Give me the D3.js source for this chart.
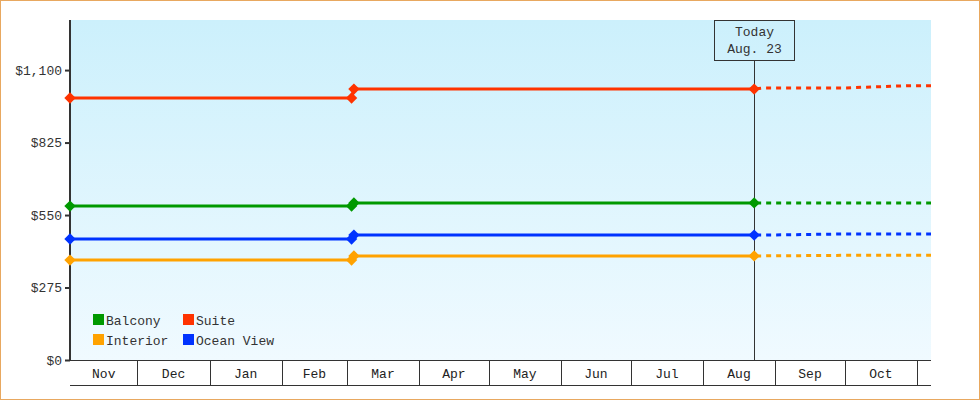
<!DOCTYPE html>
<html>
<head>
<meta charset="utf-8">
<script src="https://cdn.jsdelivr.net/npm/d3@7"></script>
<style>
  body { margin: 0; background: #fff; }
  svg { display: block; font-family: "Liberation Mono", monospace; }
</style>
</head>
<body>
<div id="chart"></div>
<script>
// series: dates of each observed price, and the observed values
var seriesNames = ["Balcony", "Interior", "Suite", "Ocean View"];
var seriesColors = ["#009900", "#ffa200", "#ff3300", "#0033ff"];
var legendOrder = ["Balcony", "Suite", "Interior", "Ocean View"];

var histDates = ["2014-11-02", "2015-03-03", "2015-03-04", "2015-08-23"];
var histBalcony = [584, 584, 596, 596];
var histInterior = [379, 379, 395, 395];
var histSuite = [994, 994, 1028, 1028];
var histOcean = [459, 459, 474, 474];

// forecast after today (dashed)
var fcDates = ["2015-08-23", "2015-08-27", "2015-09-30", "2015-10-29", "2015-11-07"];
var fcBalcony = [596, 596, 596, 596, 596];
var fcInterior = [395, 395, 397, 397, 397];
var fcSuite = [1028, 1032, 1032, 1041, 1041];
var fcOcean = [474, 474, 478, 478, 478];

var yTicks = [0, 275, 550, 825, 1100];
var todayDate = "2015-08-23";
var todayLabel = ["Today", "Aug. 23"];

var width = 980, height = 400;
var margin = { top: 20, right: 49, bottom: 40, left: 70 };
var parse = d3.timeParse("%Y-%m-%d");

var x = d3.scaleTime()
    .domain([parse("2014-11-02"), parse("2015-11-07")])
    .range([margin.left, width - margin.right]);
var y = d3.scaleLinear()
    .domain([0, 1290])
    .range([height - margin.bottom, margin.top]);

var svg = d3.select("#chart").append("svg")
    .attr("width", width)
    .attr("height", height);

// outer border
svg.append("rect")
    .attr("x", 0.5).attr("y", 0.5)
    .attr("width", width - 1).attr("height", height - 1)
    .style("fill", "#fff")
    .style("stroke", "#e8a860");

// plot background gradient
var grad = svg.append("defs").append("linearGradient")
    .attr("id", "bg").attr("x1", 0).attr("y1", 0).attr("x2", 0).attr("y2", 1);
grad.append("stop").attr("offset", "0%").attr("stop-color", "#ccf0fc");
grad.append("stop").attr("offset", "100%").attr("stop-color", "#f0faff");

svg.append("rect")
    .attr("x", margin.left)
    .attr("y", margin.top)
    .attr("width", x.range()[1] - x.range()[0])
    .attr("height", y(0) - margin.top)
    .style("fill", "url(#bg)");

// month band under the plot
var y0 = y(0);
var bandH = 25;
var months = d3.timeMonth.range(d3.timeMonth.floor(x.domain()[0]), x.domain()[1]);
var xg = svg.append("g");
xg.append("line")
    .attr("x1", x.range()[0]).attr("x2", x.range()[1])
    .attr("y1", y0 + 0.5).attr("y2", y0 + 0.5)
    .style("stroke", "#333");
xg.append("line")
    .attr("x1", x.range()[0]).attr("x2", x.range()[1])
    .attr("y1", y0 + bandH + 0.5).attr("y2", y0 + bandH + 0.5)
    .style("stroke", "#333");
months.forEach(function (m) {
    var s = Math.max(x(m), x.range()[0]);
    var e = Math.min(x(d3.timeMonth.offset(m, 1)), x.range()[1]);
    if (x(m) > x.range()[0]) {
        xg.append("line")
            .attr("x1", Math.round(x(m)) + 0.5).attr("x2", Math.round(x(m)) + 0.5)
            .attr("y1", y0).attr("y2", y0 + bandH)
            .style("stroke", "#333");
    }
    if (e - s > 40) {
        xg.append("text")
            .attr("x", (s + e) / 2)
            .attr("y", y0 + 18)
            .attr("text-anchor", "middle")
            .style("font-size", "13px")
            .style("fill", "#222")
            .text(d3.timeFormat("%b")(m));
    }
});

// y axis
var yAxis = d3.axisLeft(y)
    .tickValues(yTicks)
    .tickSize(5)
    .tickPadding(3)
    .tickFormat(function (d) { return "$" + d3.format(",")(d); });
var yg = svg.append("g")
    .attr("transform", "translate(" + margin.left + ",0)")
    .call(yAxis);
yg.select(".domain").remove();
yg.append("line")
    .attr("x1", 0).attr("x2", 0)
    .attr("y1", margin.top).attr("y2", y0 + 1)
    .style("stroke", "#333").style("stroke-width", 2);
yg.selectAll(".tick line").style("stroke", "#333").style("stroke-width", 2);
yg.selectAll(".tick text")
    .style("font-size", "13px")
    .style("font-family", "Liberation Mono, monospace")
    .style("fill", "#333");

// today marker
var tx = Math.round(x(parse(todayDate))) + 0.5;
svg.append("line")
    .attr("x1", tx).attr("x2", tx)
    .attr("y1", 60).attr("y2", y0)
    .style("stroke", "#333");
svg.append("rect")
    .attr("x", tx - 40).attr("y", 20.5)
    .attr("width", 80).attr("height", 40)
    .style("fill", "none")
    .style("stroke", "#333");
todayLabel.forEach(function (t, i) {
    svg.append("text")
        .attr("x", tx).attr("y", 36 + i * 17)
        .attr("text-anchor", "middle")
        .style("font-size", "13px")
        .style("fill", "#333")
        .text(t);
});

// lines
var hist = [histBalcony, histInterior, histSuite, histOcean];
var fc = [fcBalcony, fcInterior, fcSuite, fcOcean];
var line = d3.line()
    .x(function (d) { return x(d.date); })
    .y(function (d) { return y(d.value); });
var diamond = d3.symbol().type(d3.symbolSquare).size(64);

seriesNames.forEach(function (name, i) {
    var h = histDates.map(function (d, j) { return { date: parse(d), value: hist[i][j] }; });
    var f = fcDates.map(function (d, j) { return { date: parse(d), value: fc[i][j] }; });
    var g = svg.append("g");
    g.append("path")
        .datum(f)
        .attr("d", line)
        .style("fill", "none")
        .style("stroke", seriesColors[i])
        .style("stroke-width", 3)
        .style("stroke-dasharray", "5,5")
        .style("stroke-dashoffset", -2);
    g.append("path")
        .datum(h)
        .attr("d", line)
        .style("fill", "none")
        .style("stroke", seriesColors[i])
        .style("stroke-width", 3);
    g.selectAll(".pt")
        .data(h)
        .enter().append("path")
        .attr("class", "pt")
        .attr("transform", function (d) { return "translate(" + x(d.date) + "," + y(d.value) + ") rotate(45)"; })
        .attr("d", diamond)
        .style("fill", seriesColors[i]);
});

// legend
var legend = svg.append("g");
legendOrder.forEach(function (name, k) {
    var i = seriesNames.indexOf(name);
    var lx = 93 + (k % 2) * 90;
    var ly = 314 + Math.floor(k / 2) * 20;
    legend.append("rect")
        .attr("x", lx).attr("y", ly)
        .attr("width", 11).attr("height", 11)
        .style("fill", seriesColors[i]);
    legend.append("text")
        .attr("x", lx + 13).attr("y", ly + 10.5)
        .style("font-size", "13px")
        .style("fill", "#333")
        .text(name);
});
</script>
</body>
</html>
